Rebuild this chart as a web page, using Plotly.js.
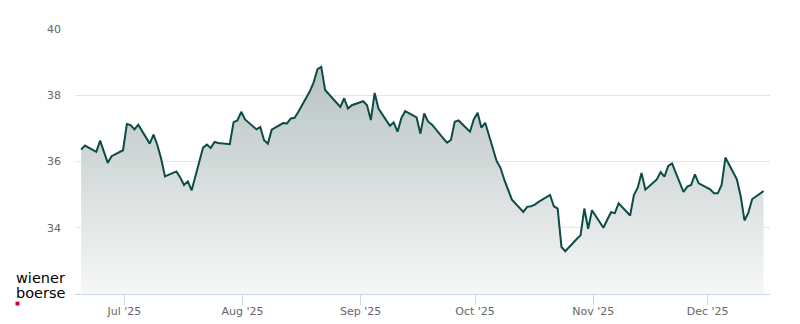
<!DOCTYPE html>
<html>
<head>
<meta charset="utf-8">
<script src="https://cdn.plot.ly/plotly-3.0.1.min.js"></script>
<style>
  html, body { margin: 0; padding: 0; background: #ffffff; }
  #chart { width: 800px; height: 324px; }
</style>
</head>
<body>
<div id="chart"></div>
<script>
const dates = [
  '2025-06-19','2025-06-20','2025-06-23','2025-06-24','2025-06-25','2025-06-26','2025-06-27',
  '2025-06-30','2025-07-01','2025-07-02','2025-07-03','2025-07-04',
  '2025-07-07','2025-07-08','2025-07-09','2025-07-10','2025-07-11',
  '2025-07-14','2025-07-15','2025-07-16','2025-07-17','2025-07-18',
  '2025-07-21','2025-07-22','2025-07-23','2025-07-24','2025-07-25',
  '2025-07-28','2025-07-29','2025-07-30','2025-07-31','2025-08-01',
  '2025-08-04','2025-08-05','2025-08-06','2025-08-07','2025-08-08',
  '2025-08-11','2025-08-12','2025-08-13','2025-08-14','2025-08-15',
  '2025-08-18','2025-08-19','2025-08-20','2025-08-21','2025-08-22',
  '2025-08-25','2025-08-26','2025-08-27','2025-08-28','2025-08-29',
  '2025-09-01','2025-09-02','2025-09-03','2025-09-04','2025-09-05',
  '2025-09-08','2025-09-09','2025-09-10','2025-09-11','2025-09-12',
  '2025-09-15','2025-09-16','2025-09-17','2025-09-18','2025-09-19',
  '2025-09-22','2025-09-23','2025-09-24','2025-09-25','2025-09-26',
  '2025-09-29','2025-09-30','2025-10-01','2025-10-02','2025-10-03',
  '2025-10-06','2025-10-07','2025-10-08','2025-10-09','2025-10-10',
  '2025-10-13','2025-10-14','2025-10-15','2025-10-16','2025-10-17',
  '2025-10-20','2025-10-21','2025-10-22','2025-10-23','2025-10-24',
  '2025-10-27','2025-10-28','2025-10-29','2025-10-30','2025-10-31',
  '2025-11-03','2025-11-04','2025-11-05','2025-11-06','2025-11-07',
  '2025-11-10','2025-11-11','2025-11-12','2025-11-13','2025-11-14',
  '2025-11-17','2025-11-18','2025-11-19','2025-11-20','2025-11-21',
  '2025-11-24','2025-11-25','2025-11-26','2025-11-27','2025-11-28',
  '2025-12-01','2025-12-02','2025-12-03','2025-12-04','2025-12-05',
  '2025-12-08','2025-12-09','2025-12-10','2025-12-11','2025-12-12',
  '2025-12-15'
];

const prices = [
  36.36, 36.48, 36.29, 36.63, 36.29, 35.96, 36.16,
  36.34, 37.13, 37.10, 36.97, 37.11,
  36.54, 36.81, 36.50, 36.08, 35.55,
  35.70, 35.52, 35.29, 35.40, 35.13,
  36.42, 36.51, 36.41, 36.59, 36.56,
  36.52, 37.19, 37.24, 37.50, 37.27,
  36.97, 37.04, 36.64, 36.54, 36.96,
  37.16, 37.15, 37.30, 37.32, 37.50,
  38.12, 38.39, 38.79, 38.86, 38.16,
  37.80, 37.65, 37.91, 37.60, 37.70,
  37.82, 37.70, 37.25, 38.07, 37.60,
  37.08, 37.18, 36.90, 37.31, 37.52,
  37.33, 36.84, 37.45, 37.21, 37.12,
  36.70, 36.57, 36.65, 37.20, 37.24,
  36.90, 37.27, 37.47, 37.02, 37.17,
  36.01, 35.81, 35.45, 35.15, 34.85,
  34.48, 34.63, 34.65, 34.70, 34.78,
  34.99, 34.65, 34.58, 33.42, 33.29,
  33.66, 33.77, 34.58, 33.97, 34.53,
  34.00, 34.24, 34.47, 34.44, 34.74,
  34.37, 34.99, 35.21, 35.65, 35.15,
  35.46, 35.68, 35.54, 35.87, 35.94,
  35.08, 35.24, 35.29, 35.61, 35.34,
  35.16, 35.04, 35.04, 35.29, 36.12,
  35.46, 34.96, 34.22, 34.45, 34.86,
  35.11
];

const yTicks = [34, 36, 38, 40];

// closing prices are stamped at the end of the trading session
const xs = dates.map(d => d + ' 15:50');

const trace = {
  type: 'scatter',
  mode: 'lines',
  x: xs,
  y: prices,
  line: { color: '#0d4b46', width: 2 },
  fill: 'tozeroy',
  fillgradient: {
    type: 'vertical',
    start: 32,
    stop: 39,
    colorscale: [[0, '#f6f7f7'], [1, '#b6c3c1']]
  },
  hoverinfo: 'x+y'
};

const layout = {
  width: 800,
  height: 324,
  margin: { l: 75, r: 30, t: 29, b: 30, pad: 0 },
  paper_bgcolor: '#ffffff',
  plot_bgcolor: '#ffffff',
  showlegend: false,
  font: { family: 'DejaVu Sans, sans-serif', size: 11, color: '#666666' },
  xaxis: {
    type: 'date',
    range: ['2025-06-18 01:30', '2025-12-17 08:30'],
    tick0: '2025-07-01',
    dtick: 'M1',
    tickformat: "%b '%y",
    ticks: 'outside',
    ticklen: 10,
    tickwidth: 1,
    tickcolor: '#ccd6eb',
    ticklabelstandoff: -3,
    showline: true,
    linecolor: '#ccd6eb',
    linewidth: 1,
    showgrid: false,
    zeroline: false,
    tickfont: { family: 'DejaVu Sans, sans-serif', size: 11, color: '#666666' },
    fixedrange: true
  },
  yaxis: {
    range: [32, 40],
    tickvals: yTicks,
    ticktext: yTicks.map(String),
    showgrid: true,
    gridcolor: '#e6e6e6',
    gridwidth: 1,
    zeroline: false,
    showline: false,
    ticks: '',
    ticklabelstandoff: 13,
    tickfont: { family: 'DejaVu Sans, sans-serif', size: 11, color: '#666666' },
    fixedrange: true
  },
  annotations: [
    {
      xref: 'paper', yref: 'paper',
      x: -0.0863, y: 0.0615, xanchor: 'left', yanchor: 'middle',
      text: 'wiener', showarrow: false, borderpad: 0,
      font: { family: 'DejaVu Sans, sans-serif', size: 14.5, color: '#000000' }
    },
    {
      xref: 'paper', yref: 'paper',
      x: -0.0863, y: 0.0026, xanchor: 'left', yanchor: 'middle',
      text: 'boerse', showarrow: false, borderpad: 0,
      font: { family: 'DejaVu Sans, sans-serif', size: 14.5, color: '#000000' }
    }
  ],
  shapes: [
    {
      type: 'rect', xref: 'paper', yref: 'paper',
      x0: -0.0856, x1: -0.0799, y0: -0.0434, y1: -0.0290,
      fillcolor: '#d0021b', line: { width: 0 }
    }
  ]
};

Plotly.newPlot('chart', [trace], layout, { displayModeBar: false, staticPlot: true });
</script>
</body>
</html>
